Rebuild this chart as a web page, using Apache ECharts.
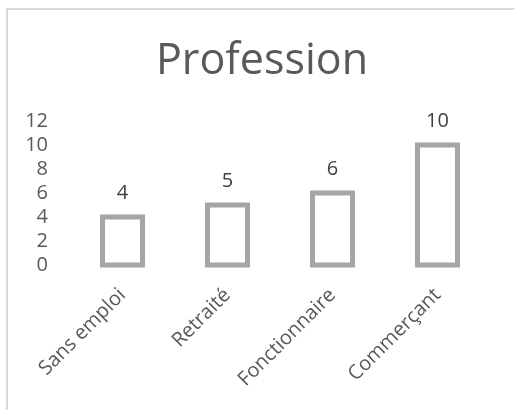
<!DOCTYPE html>
<html>
<head>
<meta charset="utf-8">
<script src="https://cdn.jsdelivr.net/npm/echarts@6/dist/echarts.min.js"></script>
<style>
  html, body { margin: 0; padding: 0; background: #fff; }
  #chart { width: 514px; height: 410px; }
</style>
</head>
<body>
<div id="chart"></div>
<script>
// Number of respondents per profession
const categories = ['Sans emploi', 'Retraité', 'Fonctionnaire', 'Commerçant'];
const counts = [4, 5, 6, 10];
const yTicks = { min: 0, max: 12, interval: 2 };

const FONT = '"Open Sans", sans-serif';
const BAR_W = 40;        // width measured between stroke centres
const BAR_STROKE = 5;

const chart = echarts.init(document.getElementById('chart'), null, { renderer: 'canvas' });

// Hollow bars: the outline is centred on the value line (top) and on the zero line (bottom)
function renderBar(params, api) {
  const idx = api.value(0);
  const val = api.value(1);
  const top = api.coord([idx, val]);
  const base = api.coord([idx, 0]);
  return {
    type: 'group',
    children: [
      {
        type: 'rect',
        shape: { x: top[0] - BAR_W / 2, y: top[1], width: BAR_W, height: base[1] - top[1] },
        style: { fill: '#ffffff', stroke: '#a5a5a5', lineWidth: BAR_STROKE }
      },
      {
        type: 'text',
        x: top[0],
        y: top[1] - 14,
        style: {
          text: String(val),
          font: '20px ' + FONT,
          fill: '#404040',
          align: 'center',
          verticalAlign: 'bottom'
        }
      }
    ]
  };
}

chart.setOption({
  backgroundColor: '#ffffff',
  animation: false,
  graphic: [
    {
      type: 'rect',
      shape: { x: 7, y: 9, width: 700, height: 700 },
      style: { fill: 'none', stroke: '#d9d9d9', lineWidth: 2 }
    },
    {
      type: 'text',
      x: 262,
      y: 62,
      style: {
        text: 'Profession',
        font: '43px ' + FONT,
        fill: '#595959',
        align: 'center',
        verticalAlign: 'middle'
      }
    }
  ],
  grid: { left: 70, right: 24, top: 121, bottom: 145 },
  xAxis: {
    type: 'category',
    data: categories,
    axisLine: { show: false },
    axisTick: { show: false },
    axisLabel: {
      rotate: 45,
      interval: 0,
      margin: 27,
      color: '#595959',
      fontSize: 20,
      fontFamily: FONT
    }
  },
  yAxis: {
    type: 'value',
    min: yTicks.min,
    max: yTicks.max,
    interval: yTicks.interval,
    splitLine: { show: false },
    axisLine: { show: false },
    axisTick: { show: false },
    axisLabel: {
      margin: 22,
      color: '#595959',
      fontSize: 20,
      fontFamily: FONT
    }
  },
  series: [
    {
      type: 'custom',
      renderItem: renderBar,
      data: counts.map((c, i) => [i, c])
    }
  ]
});
</script>
</body>
</html>
